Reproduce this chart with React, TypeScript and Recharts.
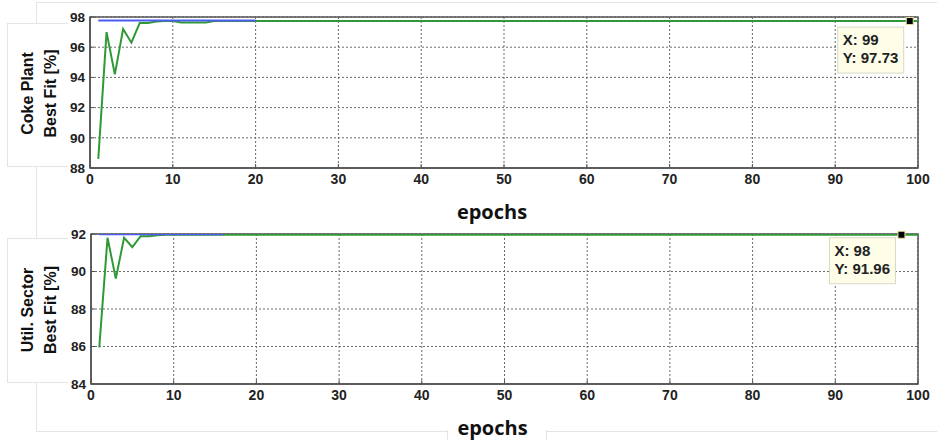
import React from 'react';
import { LineChart, Line, XAxis, YAxis, CartesianGrid, ReferenceArea, ReferenceDot } from 'recharts';

// ---- data ----
const xTicks = [0, 10, 20, 30, 40, 50, 60, 70, 80, 90, 100];

const cokeEpochs = [1, 2, 3, 4, 5, 6, 7, 8, 9, 10, 11, 12, 13, 14, 15, 16, 17, 18, 19, 20, 99, 100];
const cokeBestFit = [88.6, 97.0, 94.2, 97.2, 96.3, 97.6, 97.6, 97.7, 97.73, 97.73, 97.64, 97.64, 97.64, 97.64, 97.73, 97.73, 97.73, 97.73, 97.73, 97.73, 97.73, 97.73];
const cokeBlue = [97.77, 97.77, 97.77, 97.77, 97.77, 97.77, 97.77, 97.77, 97.77, 97.77, 97.77, 97.77, 97.77, 97.77, 97.77, 97.77, 97.77, 97.77, 97.77, 97.77];
const cokeTicksY = [88, 90, 92, 94, 96, 98];
const cokeTip = { x: 99, y: 97.73 };

const utilEpochs = [1, 2, 3, 4, 5, 6, 7, 8, 9, 10, 11, 12, 13, 14, 15, 16, 98, 100];
const utilBestFit = [85.95, 91.8, 89.62, 91.8, 91.3, 91.88, 91.88, 91.93, 91.96, 91.96, 91.96, 91.96, 91.96, 91.96, 91.96, 91.96, 91.96, 91.96];
const utilBlue = [91.99, 91.99, 91.99, 91.99, 91.99, 91.99, 91.99, 91.99, 91.99, 91.99, 91.99, 91.99, 91.99, 91.99, 91.99, 91.99];
const utilTicksY = [84, 86, 88, 90, 92];
const utilTip = { x: 98, y: 91.96 };

const cokeData = cokeEpochs.map((e, i) => ({ epoch: e, fit: cokeBestFit[i], blue: i < cokeBlue.length ? cokeBlue[i] : null }));
const utilData = utilEpochs.map((e, i) => ({ epoch: e, fit: utilBestFit[i], blue: i < utilBlue.length ? utilBlue[i] : null }));

const tickFont = { fontFamily: '"Liberation Sans", Arial, sans-serif', fontWeight: 700, fontSize: 13.5, fill: '#222' };
const xTickFont = { ...tickFont, fontSize: 14 };

const YLabel = (line1: string, line2: string) => (props: any) => {
  const vb = props.viewBox || {};
  const cy = vb.y + vb.height / 2 + 1;
  const style = { fontFamily: '"Liberation Sans", Arial, sans-serif', fontWeight: 700, fontSize: 16, fill: '#111' };
  return (
    <g>
      <text x={27} y={cy} transform={`rotate(-90, 27, ${cy})`} textAnchor="middle" dominantBaseline="central" style={style}>{line1}</text>
      <text x={50} y={cy} transform={`rotate(-90, 50, ${cy})`} textAnchor="middle" dominantBaseline="central" style={style}>{line2}</text>
    </g>
  );
};

const XLabel = (props: any) => {
  const vb = props.viewBox || {};
  const cx = vb.x + vb.width / 2 - 12;
  const y = vb.y + 43;
  return (
    <text x={cx} y={y} textAnchor="middle" dominantBaseline="central" style={{ fontFamily: '"Open Sans", sans-serif', fontWeight: 700, fontSize: 20, fill: '#111' }}>epochs</text>
  );
};

const DataTip = (tip: { x: number; y: number }, dy: number) => (props: any) => {
  const { cx, cy } = props;
  const style = { fontFamily: '"Liberation Sans", Arial, sans-serif', fontWeight: 700, fontSize: 15, fill: '#222' };
  return (
    <g>
      <rect x={cx - 72} y={cy + dy} width={66} height={46} fill="#fdfde8" stroke="#d8d8c8" strokeWidth={1} />
      <text x={cx - 67} y={cy + dy + 18} style={style}>{`X: ${tip.x}`}</text>
      <text x={cx - 67} y={cy + dy + 36} style={style}>{`Y: ${tip.y}`}</text>
      <rect x={cx - 3.5} y={cy - 3.5} width={7} height={7} fill="#000" stroke="#e8e0a0" strokeWidth={1} />
    </g>
  );
};

type PanelProps = {
  data: any[];
  yDomain: [number, number];
  yTicks: number[];
  tip: { x: number; y: number };
  tipDy: number;
  label1: string;
  label2: string;
  height: number;
  bottom: number;
  yWidth: number;
};

const Panel = ({ data, yDomain, yTicks, tip, tipDy, label1, label2, height, bottom, yWidth }: PanelProps) => (
  <LineChart width={937} height={height} data={data} margin={{ top: 17, right: 19, bottom, left: 0 }}>
    <CartesianGrid stroke="#6a6a6a" strokeDasharray="2 2" strokeWidth={1} />
    <XAxis
      dataKey="epoch"
      type="number"
      domain={[0, 100]}
      ticks={xTicks}
      interval={0}
      height={30}
      tick={xTickFont}
      tickSize={-4}
      tickMargin={10}
      stroke="#555"
      axisLine={{ stroke: '#555', strokeWidth: 1.5 }}
      tickLine={{ stroke: '#555' }}
      label={{ content: XLabel }}
    />
    <YAxis
      type="number"
      domain={yDomain}
      ticks={yTicks}
      interval={0}
      width={yWidth}
      tick={tickFont}
      tickSize={-4}
      tickMargin={9}
      axisLine={{ stroke: '#555', strokeWidth: 1.5 }}
      tickLine={{ stroke: '#555' }}
      allowDataOverflow
      label={{ content: YLabel(label1, label2) }}
    />
    <ReferenceArea x1={0} x2={100} y1={yDomain[0]} y2={yDomain[1]} fill="none" fillOpacity={0} stroke="#555" strokeWidth={1.5} ifOverflow="visible" />
    <Line dataKey="fit" stroke="#2f9a35" strokeWidth={2} dot={false} isAnimationActive={false} />
    <Line dataKey="blue" stroke="#4c5cf2" strokeWidth={2} dot={false} isAnimationActive={false} connectNulls={false} />
    <ReferenceDot x={tip.x} y={tip.y} r={4} shape={DataTip(tip, tipDy)} ifOverflow="visible" />
  </LineChart>
);

export default function App() {
  const faint = '#e4e4e4';
  return (
    <div style={{ position: 'absolute', left: 0, top: 0, width: 937, height: 440, background: '#fff', overflow: 'hidden' }}>
      {/* faint panel outlines from the original figure */}
      <div style={{ position: 'absolute', left: 36, top: 2, width: 900, height: 428, borderLeft: `1px solid ${faint}`, borderTop: `1px solid ${faint}`, borderBottom: `1px solid ${faint}` }} />
      <div style={{ position: 'absolute', left: 7, top: 23, width: 60, height: 142, border: `1px solid ${faint}`, borderRight: 'none', background: '#fff' }} />
      <div style={{ position: 'absolute', left: 7, top: 238, width: 60, height: 143, border: `1px solid ${faint}`, borderRight: 'none', background: '#fff' }} />
      <div style={{ position: 'absolute', left: 447, top: 430, width: 98, height: 12, borderLeft: `1px solid ${faint}`, borderRight: `1px solid ${faint}`, background: '#fff' }} />
      <div style={{ position: 'absolute', left: 0, top: 0 }}>
        <Panel data={cokeData} yDomain={[88, 98]} yTicks={cokeTicksY} tip={cokeTip} tipDy={6} label1="Coke Plant" label2="Best Fit [%]" height={230} bottom={32} yWidth={90} />
      </div>
      <div style={{ position: 'absolute', left: 0, top: 217 }}>
        <Panel data={utilData} yDomain={[84, 92]} yTicks={utilTicksY} tip={utilTip} tipDy={3} label1="Util. Sector" label2="Best Fit [%]" height={223} bottom={26} yWidth={91} />
      </div>
    </div>
  );
}
